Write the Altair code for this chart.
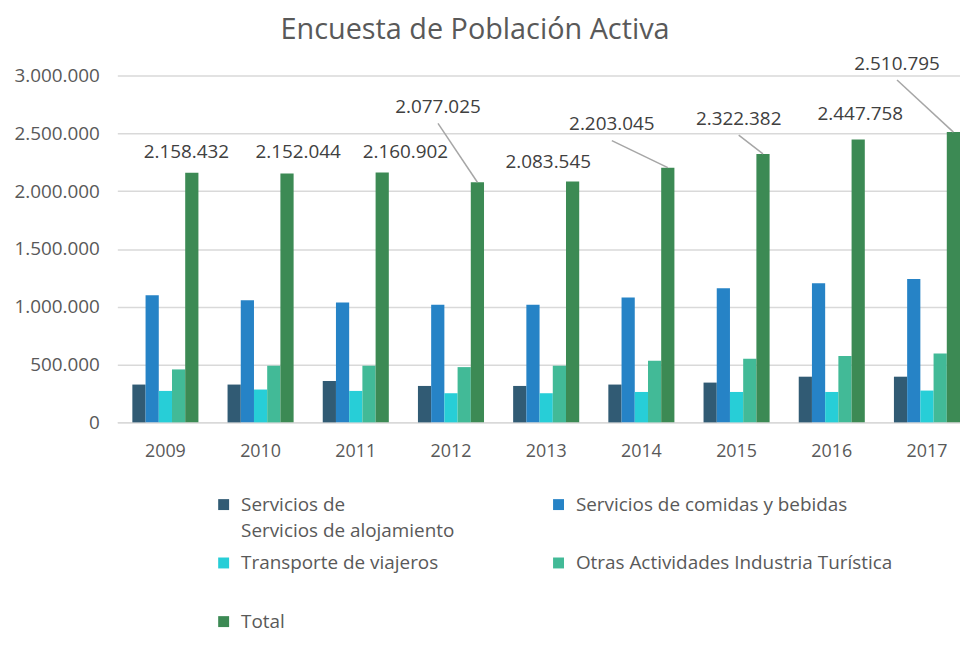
import altair as alt
import pandas as pd

years = ["2009", "2010", "2011", "2012", "2013", "2014", "2015", "2016", "2017"]
series = [
    "Servicios de\nServicios de alojamiento",
    "Servicios de comidas y bebidas",
    "Transporte de viajeros",
    "Otras Actividades Industria Turística",
    "Total",
]
alojamiento = [327000, 327000, 358000, 315000, 315000, 327000, 344000, 395000, 395000]
comidas = [1100000, 1057000, 1037000, 1017000, 1017000, 1080000, 1160000, 1203000, 1240000]
transporte = [272000, 284000, 272000, 252000, 252000, 263000, 263000, 263000, 275000]
otras = [458000, 490000, 490000, 478000, 490000, 533000, 550000, 573000, 596000]
total = [2158432, 2152044, 2160902, 2077025, 2083545, 2203045, 2322382, 2447758, 2510795]

# annotation placement for the Total data labels (category units / value units)
label_dx = [-0.057, 0.117, 0.244, -0.414, -0.256, -0.588, -0.255, 0.022, -0.592]
label_y = [2341000, 2341000, 2341000, 2727000, 2250000, 2577000, 2624000, 2663000, 3101000]
leader = [False, False, False, True, False, True, True, False, True]

colors = ["#315b74", "#2683c6", "#27ced7", "#42ba97", "#3c8a54"]
GRAY = "#595959"
FONT = "Open Sans"

W, H = 848, 349
n = len(years)
p_in, p_out, align = 0.306, 0.079, 1.0
step = W / (n - p_in + 2 * p_out)
start = (W - step * (n - p_in)) * align
d0 = -(start / step + (1 - p_in) / 2)
d1 = d0 + W / step
total_off = 0.4 * (1 - p_in)

values = [alojamiento, comidas, transporte, otras, total]
rows = []
for s, vals in zip(series, values):
    for y, v in zip(years, vals):
        rows.append({"year": y, "series": s, "value": v})
df = pd.DataFrame(rows)

lab = pd.DataFrame({
    "lx": [i + total_off + dx for i, dx in enumerate(label_dx)],
    "bx": [i + total_off for i in range(n)],
    "ly": label_y,
    "ly0": [v - 140000 for v in label_y],
    "total": total,
    "leader": leader,
    "text": [f"{v:,}".replace(",", ".") for v in total],
})

yscale = alt.Scale(domain=[0, 3000000])
lin = alt.Scale(domain=[d0, d1], nice=False, zero=False)

legend_expr = (
    "indexof(datum.label, '\\n') >= 0 ? split(datum.label, '\\n') : "
    "(datum.label == 'Total' ? datum.label : [datum.label, ''])"
)

bars = alt.Chart(df).mark_bar().encode(
    x=alt.X("year:N", sort=years, title=None,
            scale=alt.Scale(paddingInner=p_in, paddingOuter=p_out, align=align, round=False),
            axis=alt.Axis(labelAngle=0, ticks=False, domain=True, domainColor="#d9d9d9",
                          domainWidth=1.5, labelPadding=20, labelFontSize=18,
                          labelColor=GRAY, labelFont=FONT, grid=False)),
    xOffset=alt.XOffset("series:N", sort=series, scale=alt.Scale(paddingInner=0, paddingOuter=0)),
    y=alt.Y("value:Q", scale=yscale, title=None,
            axis=alt.Axis(values=[0, 500000, 1000000, 1500000, 2000000, 2500000, 3000000],
                          labelExpr="replace(format(datum.value, ','), regexp(',', 'g'), '.')",
                          ticks=False, domain=False, labelPadding=18, labelFontSize=19,
                          labelColor=GRAY, labelFont=FONT, gridColor="#d9d9d9", gridWidth=1.5)),
    color=alt.Color("series:N", sort=series,
                    scale=alt.Scale(domain=series, range=colors),
                    legend=alt.Legend(title=None, orient="none", legendX=97.5, legendY=422,
                                      direction="horizontal",
                                      columns=2, gridAlign="each", columnPadding=95, rowPadding=12,
                                      symbolType="square", symbolSize=121, symbolStrokeWidth=0,
                                      labelOffset=8,
                                      labelFontSize=19, labelColor=GRAY, labelFont=FONT,
                                      labelLimit=0, labelExpr=legend_expr)),
)

leaders = alt.Chart(lab).transform_filter("datum.leader").mark_rule(
    color="#a6a6a6", strokeWidth=1.5
).encode(
    x=alt.X("lx:Q", scale=lin, axis=None),
    x2="bx:Q",
    y=alt.Y("ly0:Q", scale=yscale),
    y2="total:Q",
)

texts = alt.Chart(lab).mark_text(
    fontSize=19, font=FONT, color="#404040", baseline="middle", align="center"
).encode(
    x=alt.X("lx:Q", scale=lin, axis=None),
    y=alt.Y("ly:Q", scale=yscale),
    text="text:N",
)

chart = alt.layer(bars, leaders, texts).resolve_scale(x="independent").properties(
    width=W, height=H,
    padding={"left": 5, "top": 6, "right": 0, "bottom": 0},
    title=alt.TitleParams("Encuesta de Población Activa", fontSize=29, font=FONT,
                          fontWeight="normal", color=GRAY, anchor="middle", frame="bounds",
                          offset=10, dx=-12),
).configure(view=alt.ViewConfig(stroke=None), style={"guide-label": {"lineHeight": 27}})

chart.save("out.html", embed_options={"renderer": "svg", "actions": False})
